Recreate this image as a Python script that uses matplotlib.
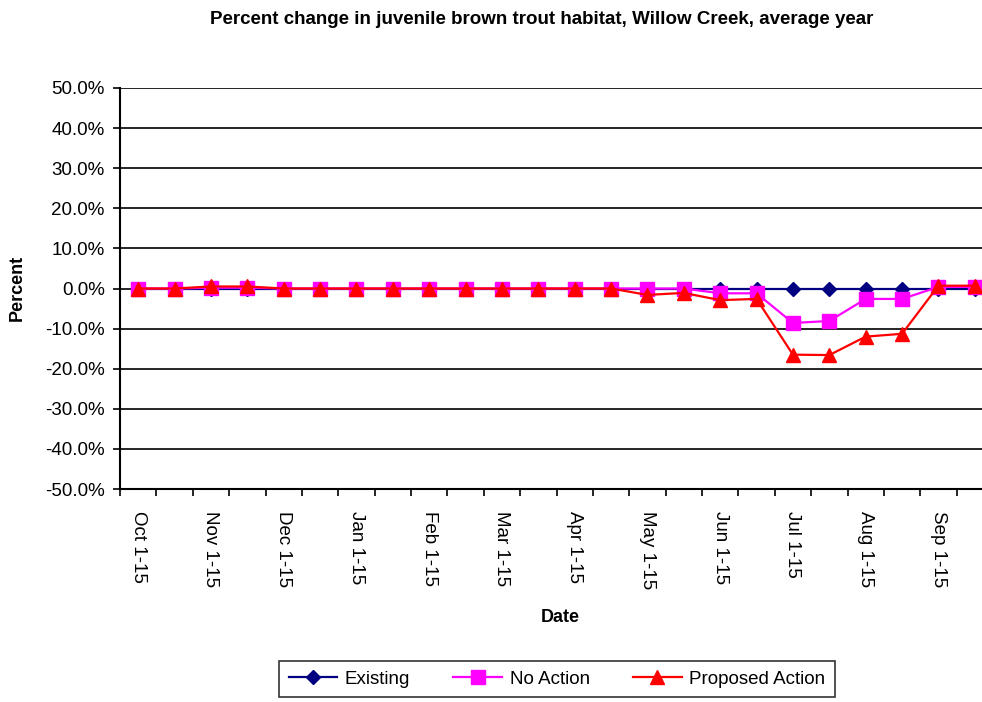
import matplotlib
matplotlib.use("Agg")
import matplotlib.pyplot as plt
from matplotlib.ticker import FuncFormatter
import numpy as np

plt.rcParams['font.family'] = ['Liberation Sans', 'DejaVu Sans']

periods = ["Oct 1-15", "Oct 16-31", "Nov 1-15", "Nov 16-30", "Dec 1-15", "Dec 16-31",
           "Jan 1-15", "Jan 16-31", "Feb 1-15", "Feb 16-28", "Mar 1-15", "Mar 16-31",
           "Apr 1-15", "Apr 16-30", "May 1-15", "May 16-31", "Jun 1-15", "Jun 16-30",
           "Jul 1-15", "Jul 16-31", "Aug 1-15", "Aug 16-31", "Sep 1-15", "Sep 16-30"]
existing = [0.0] * 24
no_action = [0.0, 0.0, 0.2, 0.2, 0.0, 0.0, 0.0, 0.0, 0.0, 0.0, 0.0, 0.0,
             0.0, 0.0, 0.0, 0.0, -1.2, -1.2, -8.6, -8.1, -2.6, -2.6, 0.4, 0.4]
proposed = [0.0, 0.0, 0.5, 0.5, 0.0, 0.0, 0.0, 0.0, 0.0, 0.0, 0.0, 0.0,
            0.0, 0.0, -1.6, -1.1, -2.9, -2.6, -16.5, -16.6, -12.0, -11.3, 0.7, 0.7]
yticks = [-50, -40, -30, -20, -10, 0, 10, 20, 30, 40, 50]

fig = plt.figure(figsize=(9.82, 7.02), dpi=100)
ax = fig.add_axes([120/982, 1 - 489/702, (993 - 120)/982, (489 - 88)/702])

x = np.arange(len(periods))
ax.plot(x, existing, color='#000080', marker='D', markersize=7, lw=1.6, label='Existing', zorder=3)
ax.plot(x, no_action, color='#FF00FF', marker='s', markersize=9.5, lw=1.6, label='No Action', zorder=4)
ax.plot(x, proposed, color='#FF0000', marker='^', markersize=10, lw=1.6, label='Proposed Action', zorder=5)

ax.set_xlim(-0.5, len(periods) - 0.5)
ax.set_ylim(-50, 50)
ax.set_yticks(yticks)
ax.yaxis.set_major_formatter(FuncFormatter(lambda v, p: f"{v:.1f}%"))
ax.grid(axis='y', color='black', lw=1.2)
ax.set_axisbelow(True)

ax.set_xticks(np.arange(len(periods) + 1) - 0.5)
ax.set_xticklabels([])
ax.set_xticks(x[::2], minor=True)
ax.set_xticklabels([periods[i] for i in x[::2]], minor=True, rotation=-90, fontsize=13.5)
ax.tick_params(axis='x', which='minor', length=0, pad=16)
ax.tick_params(axis='x', which='major', length=5, width=1.2, direction='out')
ax.tick_params(axis='y', length=5, width=1.2, labelsize=13.5, pad=6)

for s in ['top', 'right']:
    ax.spines[s].set_visible(False)
ax.spines['left'].set_linewidth(1.5)
ax.spines['bottom'].set_linewidth(1.5)

fig.text(542/982, 0.985, "Percent change in juvenile brown trout habitat, Willow Creek, average year",
         ha='center', va='top', fontsize=13.5, fontweight='bold')
fig.text(17/982, 1 - 288/702, "Percent", rotation=90, ha='center', va='center', fontsize=13, fontweight='bold')
fig.text(560/982, 1 - 617/702, "Date", ha='center', va='center', fontsize=13, fontweight='bold')

leg = fig.legend(loc='center', bbox_to_anchor=(557/982, 1 - 679/702), ncol=3, fontsize=13.5,
                 frameon=True, fancybox=False, edgecolor='black', handlelength=2.6,
                 handletextpad=0.4, columnspacing=2.3, borderpad=0.5, borderaxespad=0)
leg.get_frame().set_linewidth(1.2)

fig.savefig("out.png", dpi=100)
